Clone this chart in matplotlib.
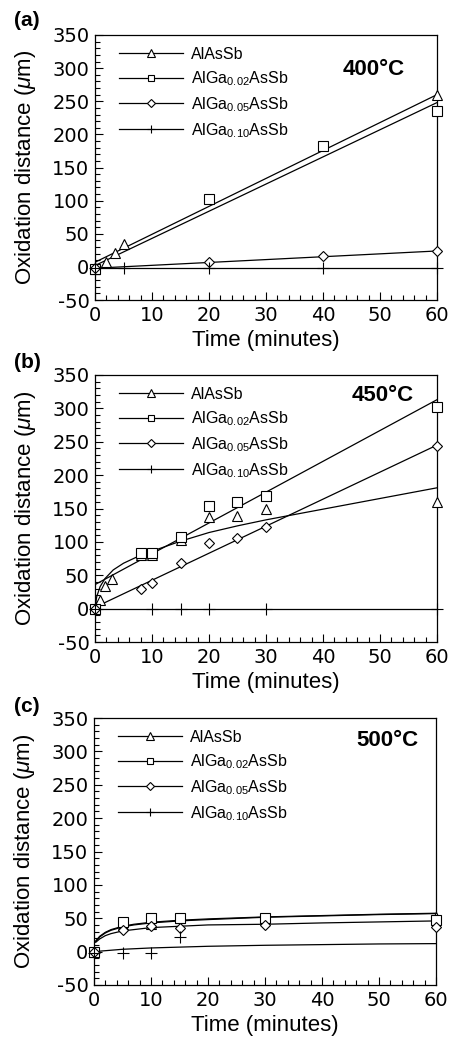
import numpy as np
import matplotlib
matplotlib.use('Agg')
import matplotlib.pyplot as plt
from matplotlib.lines import Line2D
from matplotlib.ticker import MultipleLocator

plt.rcParams['font.family'] = ['Liberation Sans', 'DejaVu Sans']
plt.rcParams['mathtext.fontset'] = 'custom'
plt.rcParams['mathtext.rm'] = 'Liberation Sans'
plt.rcParams['mathtext.it'] = 'Liberation Sans:italic'
plt.rcParams['mathtext.bf'] = 'Liberation Sans:bold'
plt.rcParams['axes.unicode_minus'] = False

# ---------------- labels ----------------
series_labels = ['AlAsSb', r'AlGa$_{0.02}$AsSb', r'AlGa$_{0.05}$AsSb', r'AlGa$_{0.10}$AsSb']
temps = ['400°C', '450°C', '500°C']
panel_tags = ['(a)', '(b)', '(c)']
x_ticks = [0, 10, 20, 30, 40, 50, 60]
y_ticks = [-50, 0, 50, 100, 150, 200, 250, 300, 350]

# ---------------- panel (a) 400 C : measured points ----------------
a_t_alassb = [0, 2, 3.5, 5, 60]
a_y_alassb = [-3, 8, 21, 34, 260]
a_t_ga02 = [0, 20, 40, 60]
a_y_ga02 = [-3, 103, 183, 236]
a_t_ga05 = [0, 20, 40, 60]
a_y_ga05 = [-2, 8, 17, 24]
a_t_ga10 = [0, 5, 20, 40, 60]
a_y_ga10 = [-2, -2, -2, -2, -2]
# fitted lines
a_fit_t = [0, 60]
a_fit_alassb = [7, 260]
a_fit_ga02 = [2, 248]
a_fit_ga05 = [-2, 24]
a_fit_ga10 = [-2, -2]

# ---------------- panel (b) 450 C ----------------
b_t_alassb = [0, 0.8, 1.8, 3, 8, 10, 15, 20, 25, 30, 60]
b_y_alassb = [0, 13, 34, 45, 80, 80, 103, 137, 139, 149, 160]
b_t_ga02 = [0, 8, 10, 15, 20, 25, 30, 60]
b_y_ga02 = [0, 84, 83, 107, 153, 160, 168, 302]
b_t_ga05 = [0, 8, 10, 15, 20, 25, 30, 60]
b_y_ga05 = [0, 29, 39, 69, 98, 106, 123, 243]
b_t_ga10 = [0, 10, 15, 20, 30, 60]
b_y_ga10 = [0, 0, 0, 0, 0, 0]
# fits
b_fitc_t = [0, 0.3, 0.9, 1.75, 3.2, 5, 8, 10, 15, 20, 25, 30, 35, 40, 50, 60]
b_fit_alassb = [0, 18, 33, 45, 58, 68, 80, 86, 101, 114, 124, 133, 141, 149, 165, 181]
b_fit_t = [0, 60]
b_fit_ga02 = [36, 313]
b_fit_ga05 = [2, 245]
b_fit_ga10 = [0, 0]

# ---------------- panel (c) 500 C ----------------
c_t = [0, 5, 10, 15, 30, 60]
c_y_alassb = [0, 40, 42, 51, 50, 52]
c_y_ga02 = [0, 44, 51, 50, 50, 48]
c_y_ga05 = [0, 33, 38, 36, 40, 37]
c_t_ga10 = [0, 5, 10, 15]
c_y_ga10 = [-2, -2, -2, 22]
# fits
c_fitc_t = [0.3, 1, 2, 3, 5, 7, 10, 15, 20, 30, 40, 50, 60]
c_fit_alassb = [16, 23, 29, 33, 38, 41, 44, 47, 49, 52, 54, 56, 57.5]
c_fit_ga02 = [15, 22, 28, 32, 37, 40, 43, 46, 48, 51.5, 53.5, 55.5, 57]
c_fit_ga05 = [14, 19, 24, 27, 31, 33, 36, 38, 40, 41, 43, 44.5, 46]
c_fit10_t = [0, 5, 10, 20, 30, 40, 50, 60]
c_fit_ga10 = [0, 3.5, 5.5, 8, 9.5, 10.5, 11.5, 12]

# ---------------- styling ----------------
mk = [dict(marker='^', ms=7), dict(marker='s', ms=6.5), dict(marker='D', ms=5), dict(marker='+', ms=8)]
LW = 0.9

panels = [
    dict(points=[(a_t_alassb, a_y_alassb), (a_t_ga02, a_y_ga02), (a_t_ga05, a_y_ga05), (a_t_ga10, a_y_ga10)],
         fits=[(a_fit_t, a_fit_alassb), (a_fit_t, a_fit_ga02), (a_fit_t, a_fit_ga05), (a_fit_t, a_fit_ga10)],
         rect=[95/453, 1-300/1040, 342/453, 265/1040], tag_y=20, temp_xy=(0.816, 0.87)),
    dict(points=[(b_t_alassb, b_y_alassb), (b_t_ga02, b_y_ga02), (b_t_ga05, b_y_ga05), (b_t_ga10, b_y_ga10)],
         fits=[(b_fitc_t, b_fit_alassb), (b_fit_t, b_fit_ga02), (b_fit_t, b_fit_ga05), (b_fit_t, b_fit_ga10)],
         rect=[95/453, 1-642/1040, 342/453, 267/1040], tag_y=363, temp_xy=(0.84, 0.925)),
    dict(points=[(c_t, c_y_alassb), (c_t, c_y_ga02), (c_t, c_y_ga05), (c_t_ga10, c_y_ga10)],
         fits=[(c_fitc_t, c_fit_alassb), (c_fitc_t, c_fit_ga02), (c_fitc_t, c_fit_ga05), (c_fit10_t, c_fit_ga10)],
         rect=[94/453, 1-985/1040, 342/453, 267/1040], tag_y=707, temp_xy=(0.857, 0.914)),
]

fig = plt.figure(figsize=(4.53, 10.4), dpi=100)

for i, p in enumerate(panels):
    ax = fig.add_axes(p['rect'])
    for (ft, fy) in p['fits']:
        ax.plot(ft, fy, color='black', lw=LW, zorder=2)
    for k, (pt, py) in enumerate(p['points']):
        ax.plot(pt, py, linestyle='none', color='black', mfc='white', mec='black',
                mew=0.8, zorder=3, clip_on=False, **mk[k])
    ax.set_xlim(0, 60)
    ax.set_ylim(-50, 350)
    ax.set_xticks(x_ticks)
    ax.set_yticks(y_ticks)
    ax.xaxis.set_minor_locator(MultipleLocator(2))
    ax.yaxis.set_minor_locator(MultipleLocator(10))
    ax.tick_params(which='both', direction='in', top=False, right=False, width=0.8)
    ax.tick_params(which='major', length=6, labelsize=14, pad=4)
    ax.tick_params(which='minor', length=3.5)
    for lab in ax.get_xticklabels() + ax.get_yticklabels():
        lab.set_family('DejaVu Sans')
    for s in ax.spines.values():
        s.set_linewidth(0.9)
    ax.set_xlabel('Time (minutes)', fontsize=16, labelpad=4)
    ax.set_ylabel(r'Oxidation distance ($\mu$m)', fontsize=16, labelpad=10)
    ax.text(p['temp_xy'][0], p['temp_xy'][1], temps[i], transform=ax.transAxes,
            fontsize=16, fontweight='bold', ha='center', va='center')
    fig.text(27/453, 1 - p['tag_y']/1040, panel_tags[i], fontsize=15, fontweight='bold',
             ha='center', va='center')
    handles = [Line2D([], [], color='black', lw=LW, mfc='white', mec='black', mew=0.8,
                      marker=mk[k]['marker'], ms=mk[k]['ms']*0.75) for k in range(4)]
    ax.legend(handles, series_labels, loc='upper left', bbox_to_anchor=(0.07, 0.955),
              frameon=False, fontsize=11.5, handlelength=4.0, handletextpad=0.5,
              borderpad=0, borderaxespad=0, labelspacing=0.45, numpoints=1)

fig.savefig('out.png', dpi=100)
